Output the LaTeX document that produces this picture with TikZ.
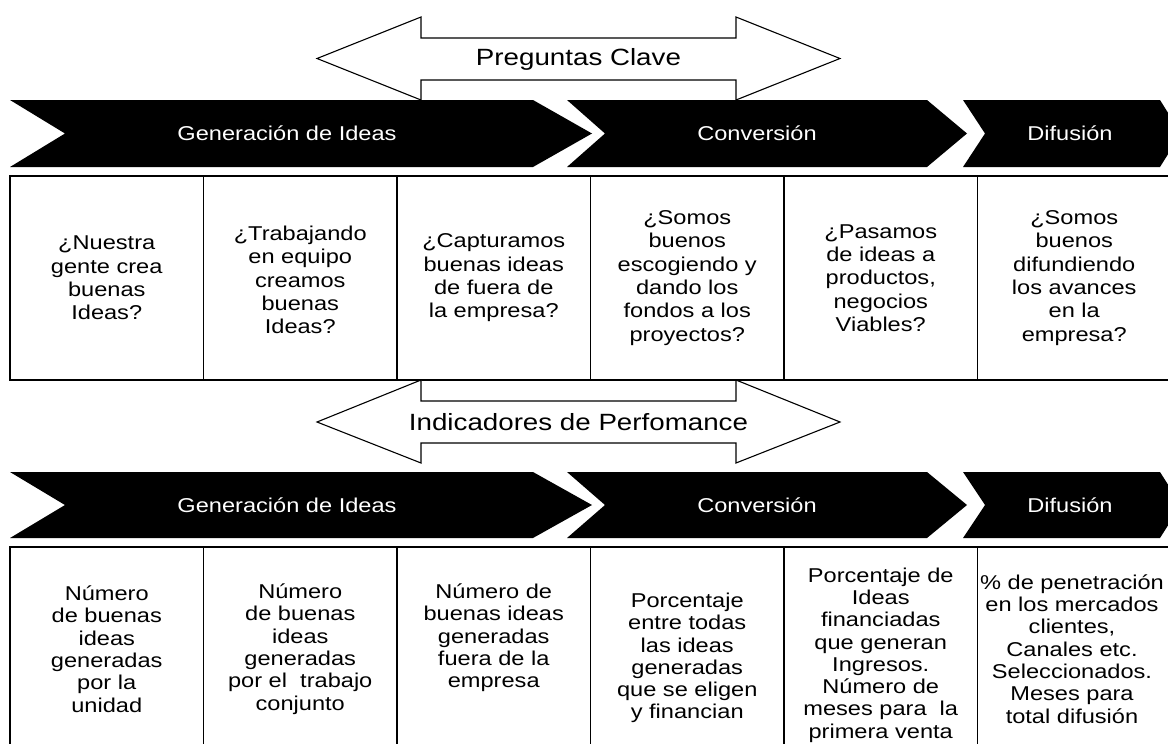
\documentclass[tikz,border=0pt]{standalone}
\usepackage{fontspec}
\setmainfont{Liberation Sans}[FakeStretch=1.18]
\begin{document}
\begin{tikzpicture}[x=1pt,y=-1pt,
  outline/.style={draw=black,line width=1.1pt,fill=white,line join=miter},
  band/.style={fill=black},
  bandtext/.style={text=white,font=\fontsize{20}{24}\selectfont,inner sep=0pt},
  cell/.style={draw=black,line width=1.4pt,minimum width=193.5pt,minimum height=#1,inner sep=0pt},
  qtext/.style={align=center,font=\fontsize{20}{23.3}\selectfont,inner sep=0pt},
  ktext/.style={align=center,font=\fontsize{20}{22.3}\selectfont,inner sep=0pt},
  headtext/.style={font=\fontsize{23.5}{28}\selectfont,inner sep=0pt}
]
\useasboundingbox (0,0) rectangle (1168,744);
\clip (0,0) rectangle (1168,744);

% ---------- Preguntas Clave: double-headed arrow ----------
\draw[outline] (317,58.5) -- (421,17) -- (421,38) -- (736,38) -- (736,17)
  -- (840,58.5) -- (736,100) -- (736,80) -- (421,80) -- (421,100) -- cycle;
\node[headtext] (pc) at (578.5,59) {Preguntas Clave};

% ---------- upper process band ----------
\fill[band] (10,100) -- (533,100) -- (592,133.5) -- (533,167) -- (10,167) -- (65,133.5) -- cycle;
\fill[band] (567,100) -- (927,100) -- (967,133.5) -- (927,167) -- (567,167) -- (605,133.5) -- cycle;
\fill[band] (963,100) -- (1160,100) -- (1181,133.5) -- (1160,167) -- (963,167) -- (985,133.5) -- cycle;
\node[bandtext] (g1) at (287,133.5) {Generación de Ideas};
\node[bandtext] (c1) at (757,133.5) {Conversión};
\node[bandtext] (d1) at (1070,133.5) {Difusión};

% ---------- key questions ----------
\node[cell=204pt] (q1) at (106.75,278) {};
\node[cell=204pt] (q2) at (300.25,278) {};
\node[cell=204pt] (q3) at (493.75,278) {};
\node[cell=204pt] (q4) at (687.25,278) {};
\node[cell=204pt] (q5) at (880.75,278) {};
\node[cell=204pt] (q6) at (1074.25,278) {};
\node[qtext] (tq1) at (q1.center) {¿Nuestra\\gente crea\\buenas\\Ideas?};
\node[qtext] (tq2) at ([yshift=-2pt]q2.center) {¿Trabajando\\en equipo\\creamos\\buenas\\Ideas?};
\node[qtext] (tq3) at (q3.center) {¿Capturamos\\buenas ideas\\de fuera de\\la empresa?};
\node[qtext] (tq4) at (q4.center) {¿Somos\\buenos\\escogiendo y\\dando los\\fondos a los\\proyectos?};
\node[qtext] (tq5) at (q5.center) {¿Pasamos\\de ideas a\\productos,\\negocios\\Viables?};
\node[qtext] (tq6) at (q6.center) {¿Somos\\buenos\\difundiendo\\los avances\\en la\\empresa?};

% ---------- Indicadores de Perfomance: double-headed arrow ----------
\draw[outline] (317,422) -- (421,380) -- (421,401) -- (736,401) -- (736,380)
  -- (840,422) -- (736,463) -- (736,443) -- (421,443) -- (421,463) -- cycle;
\node[headtext] (ip) at (578.5,422) {Indicadores de Perfomance};

% ---------- lower process band ----------
\fill[band] (10,472) -- (533,472) -- (592,505) -- (533,538) -- (10,538) -- (65,505) -- cycle;
\fill[band] (567,472) -- (927,472) -- (967,505) -- (927,538) -- (567,538) -- (605,505) -- cycle;
\fill[band] (963,472) -- (1160,472) -- (1181,505) -- (1160,538) -- (963,538) -- (985,505) -- cycle;
\node[bandtext] (g2) at (287,505) {Generación de Ideas};
\node[bandtext] (c2) at (757,505) {Conversión};
\node[bandtext] (d2) at (1070,505) {Difusión};

% ---------- performance indicators ----------
\node[cell=205pt] (k1) at (106.75,649.5) {};
\node[cell=205pt] (k2) at (300.25,649.5) {};
\node[cell=205pt] (k3) at (493.75,649.5) {};
\node[cell=205pt] (k4) at (687.25,649.5) {};
\node[cell=205pt] (k5) at (880.75,649.5) {};
\node[cell=205pt] (k6) at (1074.25,649.5) {};
\node[ktext] (tk1) at (106.75,649) {Número\\de buenas\\ideas\\generadas\\por la\\unidad};
\node[ktext] (tk2) at (300.25,649) {Número\\de buenas\\ideas\\generadas\\por el~ trabajo\\conjunto};
\node[ktext] (tk3) at (493.75,638) {Número de\\buenas ideas\\generadas\\fuera de la\\empresa};
\node[ktext] (tk4) at (687.25,658) {Porcentaje\\entre todas\\las ideas\\generadas\\que se eligen\\y financian};
\node[ktext] (tk5) at (880.75,655) {Porcentaje de\\Ideas\\financiadas\\que generan\\Ingresos.\\Número de\\meses para~ la\\primera venta};
\node[ktext] (tk6) at (1072,649) {\% de penetración\\en los mercados\\clientes,\\Canales etc.\\Seleccionados.\\Meses para\\total difusión};
\end{tikzpicture}
\end{document}
